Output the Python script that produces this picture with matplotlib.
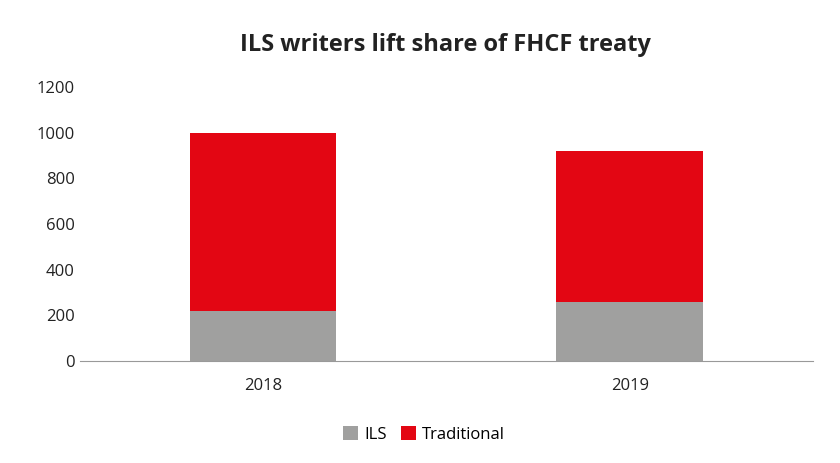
import matplotlib.pyplot as plt

plt.rcParams['font.family'] = 'Open Sans'

# data
years = ['2018', '2019']
ils = [220, 258]
traditional = [780, 662]
yticks = [0, 200, 400, 600, 800, 1000, 1200]

fig = plt.figure(figsize=(8.4, 4.63), dpi=100)
ax = fig.add_axes([0.095, 0.22, 0.873, 0.592])

x = range(len(years))
ax.bar(x, ils, width=0.4, color='#a0a09f', label='ILS')
ax.bar(x, traditional, width=0.4, bottom=ils, color='#e30613', label='Traditional')

ax.set_xlim(-0.5, 1.5)
ax.set_ylim(0, 1200)
ax.set_yticks(yticks)
ax.set_xticks(list(x))
ax.set_xticklabels(years)
ax.tick_params(axis='both', length=0, labelsize=12, colors='#222222')
ax.tick_params(axis='x', pad=12)
for s in ['top', 'right', 'left']:
    ax.spines[s].set_visible(False)
ax.spines['bottom'].set_color('#999999')

fig.text(0.53, 0.89, 'ILS writers lift share of FHCF treaty', ha='center',
         fontsize=17, fontweight='bold', color='#222222')
fig.legend(loc='center', bbox_to_anchor=(0.505, 0.062), ncol=2, frameon=False,
           fontsize=12, handlelength=0.9, handleheight=0.9, columnspacing=0.8,
           handletextpad=0.4)

fig.savefig('out.png', dpi=100)
